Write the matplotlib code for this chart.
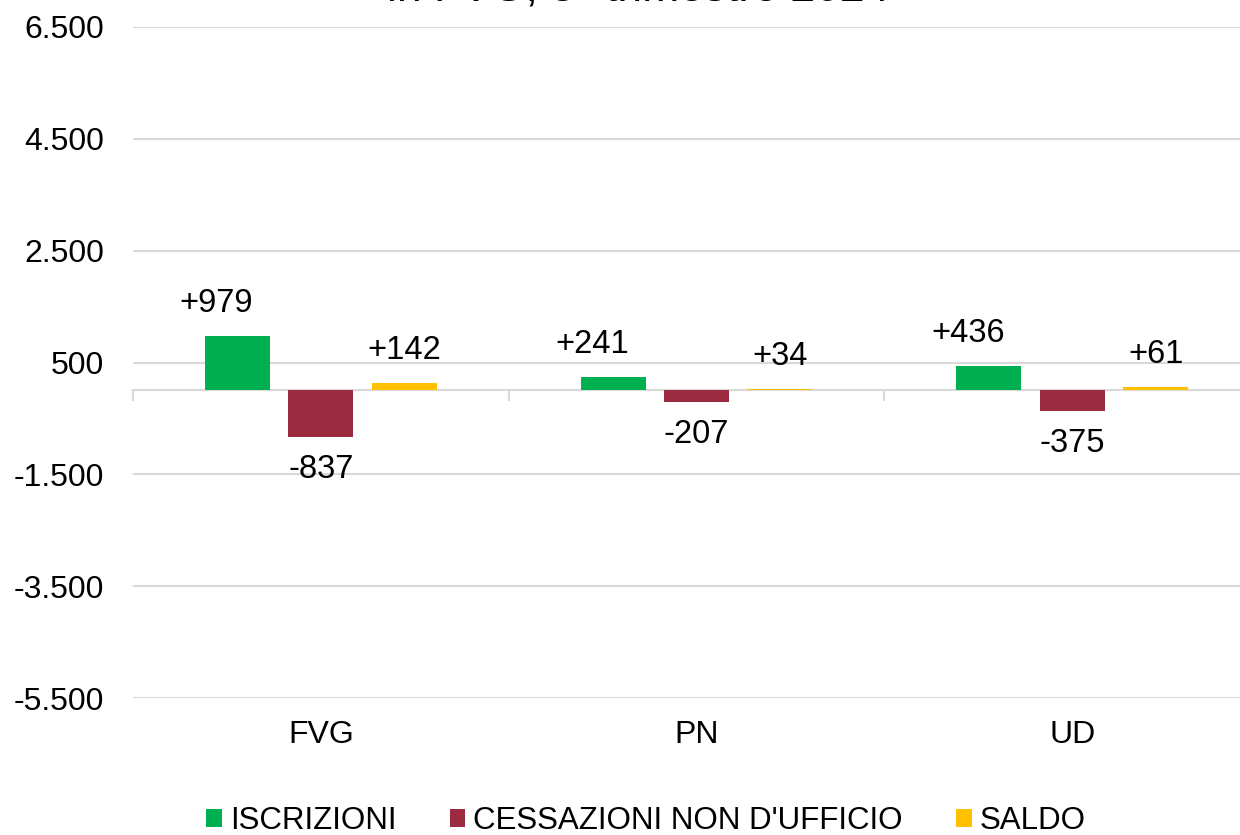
import matplotlib.pyplot as plt
import numpy as np
from matplotlib.ticker import FuncFormatter

plt.rcParams['font.family'] = ['Liberation Sans', 'DejaVu Sans']

# data
areas = ["FVG", "PN", "UD"]
series = ["ISCRIZIONI", "CESSAZIONI NON D'UFFICIO", "SALDO"]
iscrizioni = [979, 241, 436]
cessazioni = [-837, -207, -375]
saldo = [142, 34, 61]
yticks = [-5500, -3500, -1500, 500, 2500, 4500, 6500]

colors = ["#00B050", "#9B2B41", "#FFC000"]
grid_col = "#D9D9D9"

fig = plt.figure(figsize=(12.4, 8.35), dpi=100)
ax = fig.add_axes([133 / 1240, 1 - 698 / 835, (1260 - 133) / 1240, (698 - 27) / 835])

x = np.arange(len(areas))
width = 0.173
step = 0.222
label_dx = [-15, 0, 0]  # green labels sit a bit to the left in the original

for i, (vals, col, name) in enumerate(zip([iscrizioni, cessazioni, saldo], colors, series)):
    pos = x + (i - 1) * step
    bars = ax.bar(pos, vals, width=width, color=col, label=name, zorder=3)
    for b, v in zip(bars, vals):
        if v >= 0:
            txt, dy, va = f"+{v}", 12, "bottom"
        else:
            txt, dy, va = f"{v}", -12, "top"
        ax.annotate(txt, (b.get_x() + b.get_width() / 2, b.get_height()),
                    xytext=(label_dx[i], dy), textcoords="offset points",
                    ha="center", va=va, fontsize=23.5, color="black")

ax.set_xlim(-0.5, len(areas) - 0.5)
ax.set_ylim(-5500, 6500)
ax.set_yticks(yticks)
ax.yaxis.set_major_formatter(FuncFormatter(lambda v, p: f"{int(v):,}".replace(",", ".")))
ax.grid(axis="y", color=grid_col, linewidth=1.5, zorder=0)
ax.tick_params(axis="y", length=0, pad=21, labelsize=23)

ax.set_xticks(x, areas)
ax.tick_params(axis="x", length=0, pad=16, labelsize=23)

for s in ax.spines.values():
    s.set_visible(False)

# zero line with category separators
sec = ax.secondary_xaxis(0, transform=ax.transData)
sec.set_xticks(np.arange(len(areas) + 1) - 0.5, labels=[])
sec.tick_params(axis="x", length=8, width=1.5, color=grid_col)
sec.spines["bottom"].set_color(grid_col)
sec.spines["bottom"].set_linewidth(1.5)

fig.text(0.515, 1 - 1 / 835, "Iscrizioni e cessazioni di imprese\nin FVG, 3° trimestre 2024",
         ha="center", va="baseline", fontsize=32, color="black")

fig.legend(loc="center", bbox_to_anchor=(0.521, 1 - 821 / 835), ncol=3, frameon=False,
           fontsize=22.5, handlelength=0.5, handleheight=0.5, handletextpad=0.26,
           columnspacing=1.7)

fig.savefig("out.png", dpi=100)
